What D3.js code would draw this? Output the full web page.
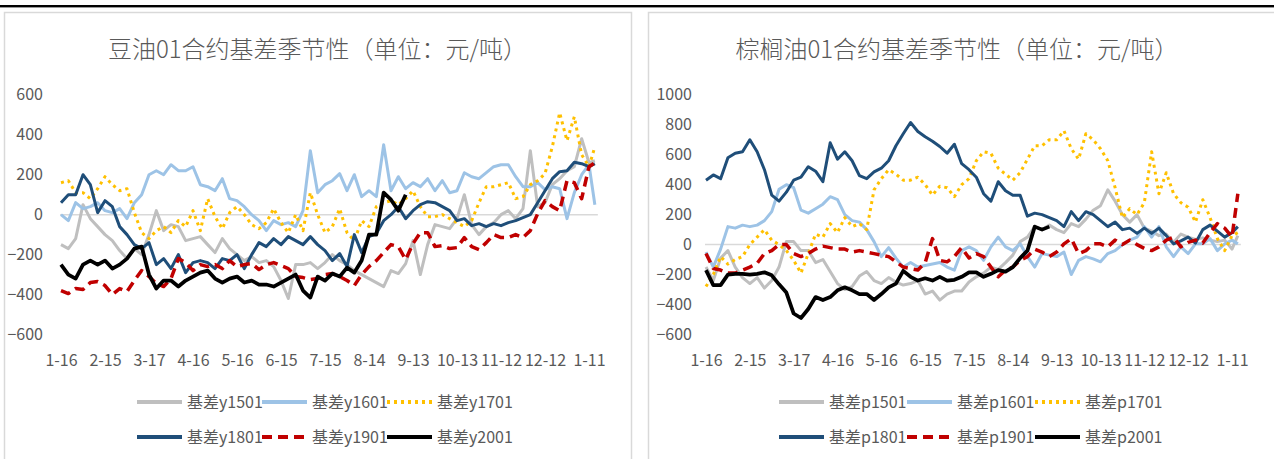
<!DOCTYPE html>
<html>
<head>
<meta charset="utf-8">
<script src="https://cdn.jsdelivr.net/npm/d3@7"></script>
<style>
  body { margin: 0; background: #fff; }
  svg { display: block; }
</style>
</head>
<body>
<div id="chart"></div>
<script>
'use strict';

// category axis: day offset from 1-16 (points every 5 days, last one at day 364)
const days = d3.range(0, 361, 5).concat([364]);
const tickDays = [0, 30, 60, 90, 120, 150, 180, 210, 240, 270, 300, 330, 360];
const tickLabels = ['1-16', '2-15', '3-17', '4-16', '5-16', '6-15', '7-15', '8-14', '9-13', '10-13', '11-12', '12-12', '1-11'];

const contracts = ['1501', '1601', '1701', '1801', '1901', '2001'];

// 豆油 y
const yTicksSoy = [-600, -400, -200, 0, 200, 400, 600];
const soy1501 = [-150,-170,-120,50,-20,-60,-100,-130,-180,-220, -170,-200,-100,20,-80,-50,-60,-130,-120,-110,
  -150,-190,-120,-170,-200,-230,-210,-240,-230,-260, -330,-420,-250,-250,-240,-270,-240,-200,-230,-250,
  -280,-300,-320,-340,-360,-280,-295,-245,-130,-300, -150,-50,-60,-70,-20,100,-50,-100,-60,-40,
  0,20,-20,30,320,40,60,150,180,220, 240,380,260,270];
const soy1601 = [0,-30,60,30,40,60,20,10,30,-20, 60,100,200,220,200,250,220,220,240,150,
  140,120,180,80,70,40,0,-30,-80,-30, -50,-40,-60,20,320,110,150,170,205,120,
  200,90,120,90,350,120,190,130,160,140, 180,120,170,110,120,210,190,180,210,240,
  250,250,190,140,140,160,125,140,130,-20, 110,200,250,50];
const soy1701 = [160,170,110,110,80,130,190,150,120,130, 10,-90,-120,-80,-60,-90,-30,-60,20,-80,
  80,-10,-70,10,40,0,-50,-70,-40,30, -40,-90,0,-80,110,0,-90,-60,30,-90,
  -130,-30,-60,40,60,70,50,80,120,40, -10,-10,0,-20,-40,-60,-30,60,140,140,
  150,160,80,90,150,170,205,340,510,370, 490,300,240,340];
const soy1801 = [60,100,100,200,150,10,70,40,-60,-100, -150,-170,-140,-250,-220,-270,-200,-290,-240,-230,
  -240,-270,-220,-230,-200,-270,-200,-140,-160,-120, -150,-110,-130,-150,-110,-150,-180,-230,-195,-260,
  -100,-190,-110,-95,-30,0,40,-20,20,50, 65,60,40,20,-30,-20,-55,-45,-60,-45,
  -55,-40,-30,-15,0,60,120,180,215,220, 262,255,240,255];
const soy1901 = [-380,-395,-370,-375,-340,-335,-355,-400,-370,-385, -330,-280,-310,-345,-360,-320,-220,-240,-280,-250,
  -260,-250,-270,-230,-260,-250,-245,-275,-250,-240, -255,-270,-310,-315,-325,-320,-300,-295,-310,-330,
  -355,-300,-260,-230,-190,-150,-160,-225,-145,-90, -90,-160,-155,-170,-165,-115,-160,-175,-140,-100,
  -115,-115,-100,-115,-80,5,70,40,20,170, 160,80,240,260];
const soy2001 = [-250,-300,-320,-250,-230,-250,-230,-270,-250,-220, -170,-160,-300,-370,-330,-330,-360,-330,-310,-290,
  -280,-320,-340,-320,-310,-340,-330,-350,-350,-360, -340,-320,-300,-380,-415,-310,-330,-295,-310,-265,
  -290,-230,-100,-100,110,75,20,100];

// 棕榈油 p
const yTicksPalm = [-600, -400, -200, 0, 200, 400, 600, 800, 1000];
const palm1501 = [-150,-240,-90,-40,-150,-220,-260,-220,-290,-240, -150,20,20,-40,-40,-120,-100,-180,-260,-300,
  -280,-210,-180,-240,-260,-220,-250,-270,-260,-240, -330,-310,-370,-330,-310,-310,-250,-215,-190,-150,
  -165,-120,-70,20,50,120,100,130,100,80, 140,120,170,230,260,365,290,200,150,200,
  110,90,60,70,15,70,50,35,45,30, 20,30,-30,60];
const palm1601 = [-50,-150,-30,120,110,130,120,130,160,220, 370,400,380,230,210,240,270,320,300,200,
  160,150,100,20,-80,-20,-90,-150,-120,-150, -140,-130,-120,-150,-170,-40,-15,-40,-105,-15,
  50,-15,-40,5,-80,-150,-60,-70,-80,-50, -200,-105,-80,-95,-115,-60,-40,0,30,50,
  120,50,120,-15,-80,-15,-60,5,5,40, -40,5,30,5];
const palm1701 = [-280,-200,-80,-130,-100,-80,0,50,100,30, 0,-40,-105,-190,-60,70,50,140,80,180,
  120,140,100,365,440,500,470,430,430,450, 400,330,390,380,320,400,440,560,620,610,
  510,470,430,480,570,660,660,700,700,760, 640,570,740,700,640,560,380,180,240,200,
  280,620,340,480,340,280,250,150,300,180, 40,-40,60,80];
const palm1801 = [430,465,440,580,610,620,700,620,500,330, 290,350,430,450,520,490,420,680,570,620,
  560,460,440,485,510,560,660,740,815,755, 720,690,655,610,670,540,500,450,340,290,
  420,360,330,330,190,210,200,180,160,120, 220,160,220,200,160,120,150,100,110,75,
  110,75,110,60,5,25,50,10,100,130, 90,50,80,120];
const palm1901 = [-60,-160,-170,-190,-190,-170,-150,-125,-60,-40, 0,0,-60,-80,-60,-30,-10,-20,-30,-30,
  -50,-40,-50,-60,-70,-80,-115,-150,-160,-170, -120,40,-105,-115,-80,-20,-90,-60,-80,-150,
  -215,-170,-150,-105,-80,-30,-50,-80,-50,5, 40,-60,-40,5,5,-15,30,0,30,0,
  -25,-40,-15,30,50,-15,15,30,10,80, 140,110,50,340];
const palm2001 = [-170,-270,-270,-200,-195,-195,-200,-195,-185,-205, -265,-320,-460,-490,-430,-350,-370,-350,-305,-285,
  -305,-330,-330,-370,-330,-285,-260,-175,-215,-240, -225,-240,-215,-240,-235,-215,-185,-185,-215,-195,
  -170,-180,-150,-90,-40,120,100,120];

const lineColors = ['#bfbfbf', '#9dc3e6', '#ffc000', '#1f4e79', '#c00000', '#000000'];
const lineWidths = [3, 3, 3, 3, 3.5, 3.75];
const lineDashes = [null, null, '3 4', null, '10 6', null];

const textColor = '#595959';
const cjkFont = '"Noto Sans CJK SC", "Noto Sans", sans-serif';

const W = 1274, H = 459;

const svg = d3.select('#chart').append('svg')
  .attr('width', W)
  .attr('height', H);

svg.append('rect').attr('width', W).attr('height', H).attr('fill', '#fff');

// thin black bar at top
svg.append('rect')
  .attr('x', 0).attr('y', 5)
  .attr('width', W).attr('height', 2.4)
  .attr('fill', '#000');

const panels = [
  {
    left: 4.5, width: 627, center: 317.5, title: '豆油01合约基差季节性（单位：元/吨）', prefix: '基差y',
    series: [soy1501, soy1601, soy1701, soy1801, soy1901, soy2001],
    yTicks: yTicksSoy, xStart: 61, xEnd: 589, labelRight: 43,
    legendX: 137, legendStep: 125
  },
  {
    left: 648.5, width: 640, center: 957, title: '棕榈油01合约基差季节性（单位：元/吨）', prefix: '基差p',
    series: [palm1501, palm1601, palm1701, palm1801, palm1901, palm2001],
    yTicks: yTicksPalm, xStart: 706, xEnd: 1232, labelRight: 692,
    legendX: 779, legendStep: 128
  }
];

function drawPanel(p) {
  const g = svg.append('g');

  g.append('rect')
    .attr('x', p.left).attr('y', 12.5)
    .attr('width', p.width).attr('height', 470)
    .attr('fill', '#fff')
    .attr('stroke', '#d9d9d9')
    .attr('stroke-width', 1.5);

  g.append('text')
    .attr('x', p.center).attr('y', 58)
    .attr('text-anchor', 'middle')
    .style('font-family', cjkFont)
    .style('font-size', '24px')
    .style('font-weight', 300)
    .style('fill', textColor)
    .text(p.title);

  const x = d3.scaleLinear().domain([0, 360]).range([p.xStart, p.xEnd]);
  const y = d3.scaleLinear()
    .domain([p.yTicks[0], p.yTicks[p.yTicks.length - 1]])
    .range([334.5, 94.8]);

  // zero line
  g.append('line')
    .attr('x1', x(0) - 1).attr('x2', x(364) + 3)
    .attr('y1', y(0)).attr('y2', y(0))
    .attr('stroke', '#d9d9d9')
    .attr('stroke-width', 1.5);

  // y axis labels
  const yAxis = g.append('g')
    .attr('transform', 'translate(' + p.labelRight + ',0)')
    .call(d3.axisLeft(y).tickValues(p.yTicks).tickFormat(d3.format('d'))
      .tickSize(0).tickPadding(0));
  yAxis.select('.domain').remove();
  yAxis.selectAll('text')
    .style('font-family', cjkFont)
    .style('font-size', '16px')
    .style('fill', textColor);

  // x axis labels
  const xAxis = g.append('g')
    .attr('transform', 'translate(0,366)')
    .call(d3.axisBottom(x).tickValues(tickDays)
      .tickFormat(function(d, i) { return tickLabels[i]; })
      .tickSize(0).tickPadding(0));
  xAxis.select('.domain').remove();
  xAxis.selectAll('text')
    .attr('y', 0).attr('dy', null)
    .style('font-family', cjkFont)
    .style('font-size', '16px')
    .style('fill', textColor);

  const line = d3.line()
    .x(function(d, i) { return x(days[i]); })
    .y(function(d) { return y(d); });

  p.series.forEach(function(values, k) {
    g.append('path')
      .datum(values)
      .attr('d', line)
      .attr('fill', 'none')
      .attr('stroke', lineColors[k])
      .attr('stroke-width', lineWidths[k])
      .attr('stroke-dasharray', lineDashes[k])
      .attr('stroke-linejoin', 'round');
  });

  // legend, 3 per row
  contracts.forEach(function(c, k) {
    const lx = p.legendX + (k % 3) * p.legendStep;
    const ly = k < 3 ? 402 : 437;
    g.append('line')
      .attr('x1', lx).attr('x2', lx + 45)
      .attr('y1', ly).attr('y2', ly)
      .attr('stroke', lineColors[k])
      .attr('stroke-width', 4)
      .attr('stroke-dasharray', lineDashes[k]);
    g.append('text')
      .attr('x', lx + 50).attr('y', ly)
      .attr('dy', '0.36em')
      .style('font-family', cjkFont)
      .style('font-size', '16px')
      .style('fill', textColor)
      .text(p.prefix + c);
  });
}

panels.forEach(drawPanel);
</script>
</body>
</html>
